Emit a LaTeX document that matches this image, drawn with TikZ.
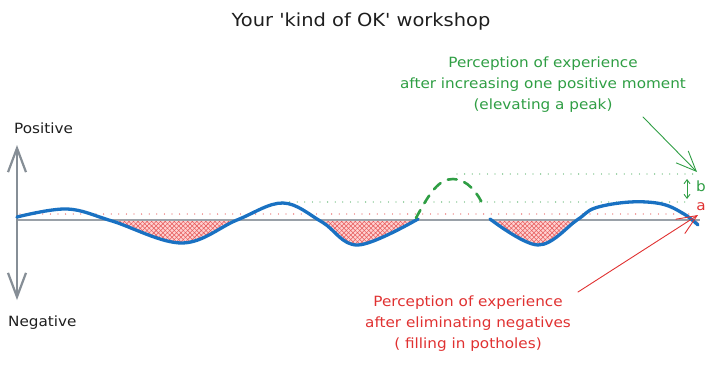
\documentclass[tikz,border=0pt]{standalone}
\usepackage{fontspec}
\setmainfont{DejaVu Sans}[FakeStretch=1.08, Ligatures=TeXOff]
\usetikzlibrary{arrows.meta,patterns.meta}
\definecolor{exblue}{HTML}{1971C2}
\definecolor{exred}{HTML}{E03131}
\definecolor{exgreen}{HTML}{2F9E44}
\definecolor{exgray}{HTML}{868E96}
\definecolor{exline}{HTML}{9AA1A8}
\definecolor{exink}{HTML}{1E1E1E}
\definecolor{hatchbg}{HTML}{FFD2D2}
\begin{document}
\begin{tikzpicture}[x=1pt,y=-1pt,
  lbl/.style={font=\fontsize{14.1}{21}\selectfont, inner sep=0pt, align=center},
  titlelbl/.style={font=\fontsize{18}{22}\selectfont, inner sep=0pt, text=exink},
  curve/.style={exblue, line width=3.3pt, line cap=round, line join=round},
  hatchfill/.style={fill=hatchbg,
    postaction={pattern={Lines[angle=45,distance=3.2pt,line width=0.55pt]}, pattern color=exred!80},
    postaction={pattern={Lines[angle=-45,distance=3.2pt,line width=0.55pt]}, pattern color=exred!80}},
  dotline/.style={line width=1.3pt, line cap=round, dash pattern=on 0pt off 7.6pt},
  axisline/.style={exgray, line width=2.2pt, line cap=round,
    {Straight Barb[length=24pt,width=18pt]}-{Straight Barb[length=24pt,width=18pt]}},
  pointer/.style={line width=0.9pt, line cap=round, -{Straight Barb[length=20pt,width=17pt]}},
  smallarrow/.style={exgreen, line width=0.9pt, {Straight Barb[length=4pt,width=6pt]}-{Straight Barb[length=4pt,width=6pt]}}
]
\useasboundingbox (0,0) rectangle (714,364);

% hatched troughs
\begin{scope}
  \clip (0,220) rectangle (714,280);
  \path[hatchfill] plot[smooth,tension=0.6] coordinates {(17,217) (67,209) (112,221) (182,243) (237,220) (283,203) (322,222) (358,245) (418,219)} -- (418,220) -- (17,220) -- cycle;
  \path[hatchfill] plot[smooth,tension=0.6] coordinates {(490,219) (538,245) (577,220) (595,208) (630,202) (662,204) (684,214) (698,225)} -- (698,220) -- (490,220) -- cycle;
\end{scope}

% baseline
\coordinate (bl) at (17,220);
\coordinate (br) at (700,220);
\draw[exline, line width=1.8pt] (bl) -- (br);

% dotted reference lines
\coordinate (rd1) at (20,214);
\coordinate (rd2) at (690,214);
\coordinate (gd1) at (282,202);
\coordinate (gd2) at (690,202);
\coordinate (gu1) at (457,174);
\coordinate (gu2) at (695,174);
\draw[dotline, exred!80] (rd1) -- (rd2);
\draw[dotline, exgreen!80] (gd1) -- (gd2);
\draw[dotline, exgreen!80] (gu1) -- (gu2);

% axis
\coordinate (ytop) at (17,145);
\coordinate (ybot) at (17,300);
\draw[axisline] (ytop) -- (ybot);

% blue curve
\draw[curve] plot[smooth,tension=0.6] coordinates {(17,217) (67,209) (112,221) (182,243) (237,220) (283,203) (322,222) (358,245) (418,219)};
\draw[curve] plot[smooth,tension=0.6] coordinates {(490,219) (538,245) (577,220) (595,208) (630,202) (662,204) (684,214) (698,225)};

% green dashed peak
\coordinate (pk0) at (416,218);
\coordinate (pk1) at (453,179);
\coordinate (pk2) at (484,207);
\draw[exgreen, line width=2.6pt, dash pattern=on 9pt off 8pt, line cap=round]
  (pk0) .. controls (430,192) and (439,179) .. (pk1) .. controls (467,179) and (478,193) .. (pk2);

% labels
\node[titlelbl] (title) at (361,22) {Your 'kind of OK' workshop};
\node[lbl, text=exink, anchor=west] (pos) at (14,128) {Positive};
\node[lbl, text=exink, anchor=west] (neg) at (8,323) {Negative};
\node[lbl, text=exgreen] (gtext) at (543,85) {Perception of experience\\after increasing one positive moment\\(elevating a peak)};
\node[lbl, text=exred] (rtext) at (468,324) {Perception of experience\\after eliminating negatives\\( filling in potholes)};
\node[lbl, text=exgreen] (blab) at (701,186) {b};
\node[lbl, text=exred] (alab) at (701,207) {a};

% pointers
\coordinate (gs) at (643,117);
\coordinate (gt) at (697,172);
\coordinate (rs) at (578,292);
\coordinate (rt) at (698,215);
\draw[pointer, exgreen] (gs) -- (gt);
\draw[pointer, exred] (rs) -- (rt);
\coordinate (b1) at (687,179);
\coordinate (b2) at (687,199);
\draw[smallarrow] (b1) -- (b2);
\end{tikzpicture}
\end{document}
